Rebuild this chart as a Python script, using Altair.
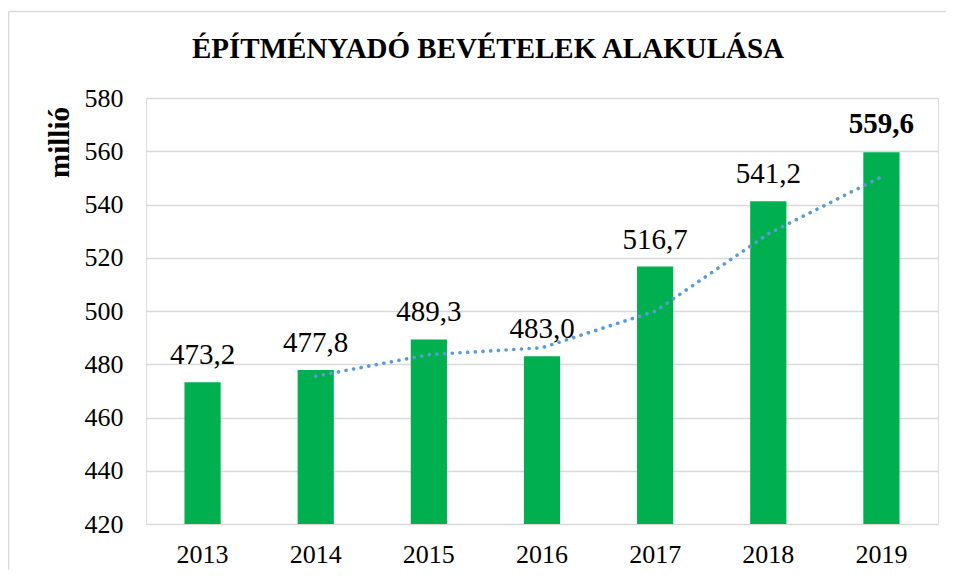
import altair as alt
import pandas as pd

years = ["2013", "2014", "2015", "2016", "2017", "2018", "2019"]
revenue = [473.2, 477.8, 489.3, 483.0, 516.7, 541.2, 559.6]
label_text = ["473,2", "477,8", "489,3", "483,0", "516,7", "541,2", "559,6"]
label_bold = [False, False, False, False, False, False, True]

trend_years = ["2014", "2015", "2016", "2017", "2018", "2019"]
trend_values = [475.5, 483.6, 486.2, 499.9, 529.0, 550.4]

y_ticks = [420, 440, 460, 480, 500, 520, 540, 560, 580]

df = pd.DataFrame({"year": years, "value": revenue, "label": label_text, "bold": label_bold})
trend = pd.DataFrame({"year": trend_years, "value": trend_values})
frame = pd.DataFrame({"k": [0]})

FONT = "Liberation Serif"

x_enc = alt.X(
    "year:N",
    sort=years,
    scale=alt.Scale(paddingInner=0.68, paddingOuter=0.34),
    axis=alt.Axis(
        title=None, labelAngle=0, labelFont=FONT, labelFontSize=26, labelColor="#000000",
        labelPadding=17, ticks=False, domain=False, grid=False,
    ),
)
y_scale = alt.Scale(domain=[420, 580], nice=False, zero=False)

bars = alt.Chart(df).mark_bar(color="#00B050", clip=True).encode(
    x=x_enc,
    y=alt.Y(
        "value:Q",
        scale=y_scale,
        axis=alt.Axis(
            title="millió", titleFont=FONT, titleFontSize=29, titleFontWeight="bold",
            titleColor="#000000", titleAngle=-90, titleX=-87, titleY=44,
            titleAlign="center", titleBaseline="middle",
            values=y_ticks, labelFont=FONT, labelFontSize=26, labelColor="#000000",
            labelPadding=23, ticks=False, domain=False,
            grid=True, gridColor="#d9d9d9", gridWidth=1.3,
        ),
    ),
)

labels_normal = alt.Chart(df).transform_filter("!datum.bold").mark_text(
    font=FONT, fontSize=29, color="#000000", baseline="alphabetic", dy=-18
).encode(x=alt.X("year:N", sort=years), y=alt.Y("value:Q", scale=y_scale), text="label:N")

labels_bold = alt.Chart(df).transform_filter("datum.bold").mark_text(
    font=FONT, fontSize=29, fontWeight="bold", color="#000000", baseline="alphabetic", dy=-19
).encode(x=alt.X("year:N", sort=years), y=alt.Y("value:Q", scale=y_scale), text="label:N")

trend_line = alt.Chart(trend).mark_line(
    color="#5B9BD5", strokeWidth=3.6, strokeCap="round", strokeDash=[0.1, 7.6]
).encode(x=alt.X("year:N", sort=years), y=alt.Y("value:Q", scale=y_scale))

border_top = alt.Chart(frame).mark_rule(color="#d9d9d9", strokeWidth=1.5).encode(
    x=alt.value(-137.5), x2=alt.value(900), y=alt.value(-86.5)
)
border_left = alt.Chart(frame).mark_rule(color="#d9d9d9", strokeWidth=1.5).encode(
    x=alt.value(-137.5), y=alt.value(-86.5), y2=alt.value(600)
)

chart = alt.layer(
    border_top, border_left, bars, trend_line, labels_normal, labels_bold
).properties(
    width=792,
    height=426,
    padding={"left": 138, "top": 90, "right": 8, "bottom": 46},
    autosize=alt.AutoSizeParams(type="none"),
    title=alt.TitleParams(
        "ÉPÍTMÉNYADÓ BEVÉTELEK ALAKULÁSA", font=FONT, fontSize=29, fontWeight="bold",
        color="#000000", anchor="middle", frame="group", dx=-54, offset=-76,
        baseline="alphabetic",
    ),
).configure_view(stroke=None).configure(background="white")

chart.save("out.html", embed_options={"renderer": "svg", "actions": False})
